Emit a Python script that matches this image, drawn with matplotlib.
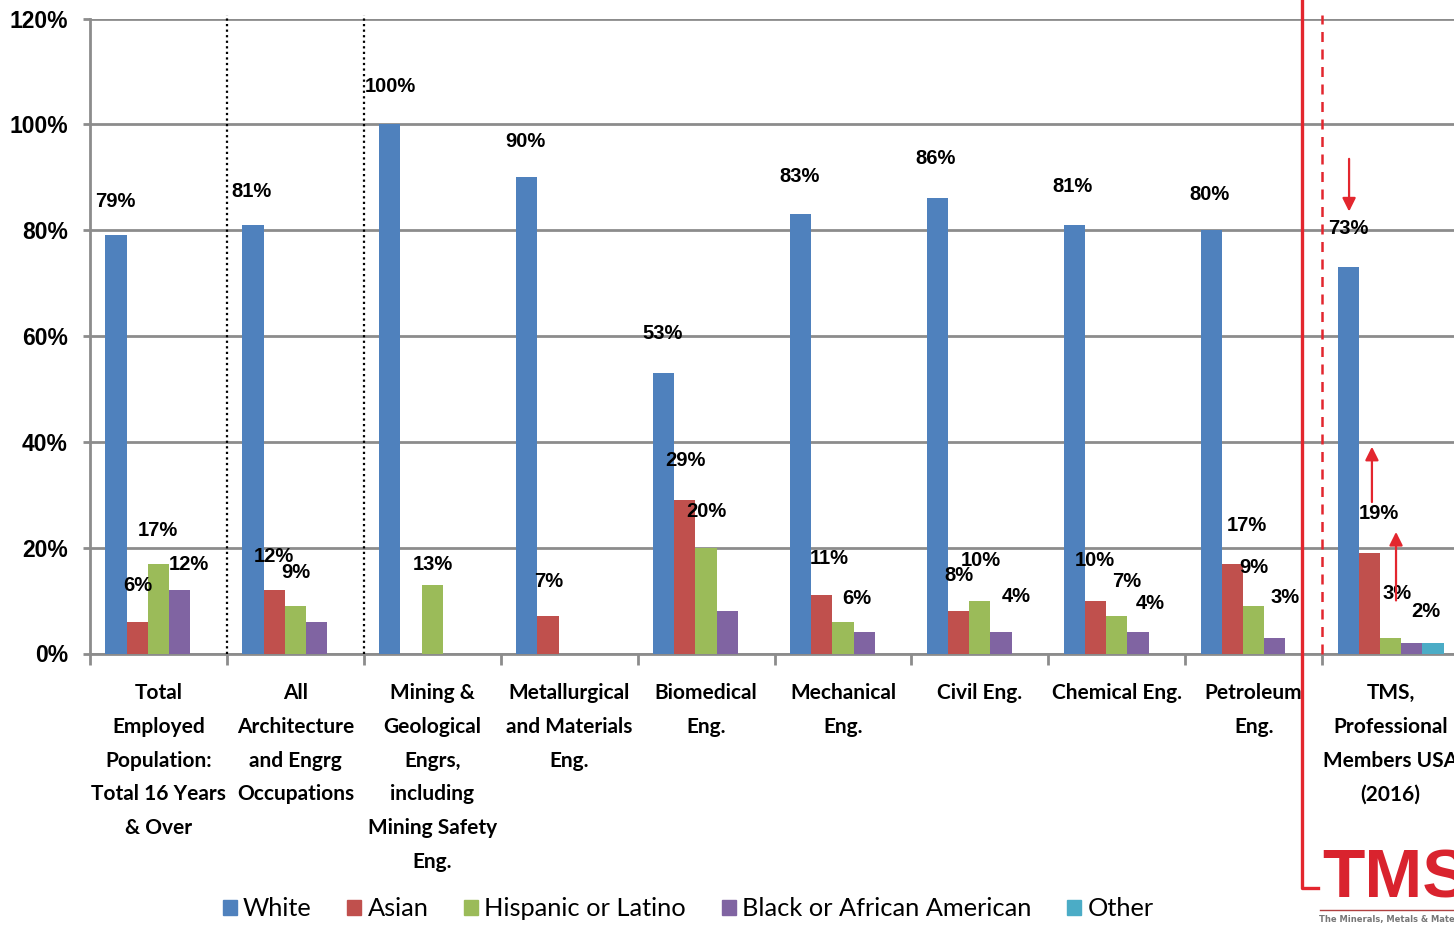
import numpy as np
import matplotlib.pyplot as plt
from matplotlib.lines import Line2D
from matplotlib.patches import Patch

# occupational groups (x axis)
categories = [
    "Total\nEmployed\nPopulation:\nTotal 16 Years\n& Over",
    "All\nArchitecture\nand Engrg\nOccupations",
    "Mining &\nGeological\nEngrs,\nincluding\nMining Safety\nEng.",
    "Metallurgical\nand Materials\nEng.",
    "Biomedical\nEng.",
    "Mechanical\nEng.",
    "Civil Eng.",
    "Chemical Eng.",
    "Petroleum\nEng.",
    "TMS,\nProfessional\nMembers USA\n(2016)",
]

series_names = ["White", "Asian", "Hispanic or Latino", "Black or African American", "Other"]
white    = [79, 81, 100, 90, 53, 83, 86, 81, 80, 73]
asian    = [6, 12, 0, 7, 29, 11, 8, 10, 17, 19]
hispanic = [17, 9, 13, 0, 20, 6, 10, 7, 9, 3]
black    = [12, 6, 0, 0, 8, 4, 4, 4, 3, 2]
other    = [0, 0, 0, 0, 0, 0, 0, 0, 0, 2]
yticks = [0, 20, 40, 60, 80, 100, 120]

colors = ["#4F81BD", "#C0504D", "#9BBB59", "#8064A2", "#4BACC6"]
values = [white, asian, hispanic, black, other]

# where each value label sits: (group, series, x offset, y)
label_pos = [
    (0, 0, -0.317, 85.5), (0, 1, -0.149, 12.8), (0, 2, -0.003, 23.3), (0, 3, 0.223, 16.9),
    (1, 0, -0.317, 87.4), (1, 1, -0.156, 18.4), (1, 2, 0.0, 15.4),
    (2, 0, -0.309, 107.1), (2, 2, 0.005, 16.8),
    (3, 0, -0.323, 96.7), (3, 1, -0.147, 13.7),
    (4, 0, -0.314, 60.4), (4, 1, -0.154, 36.4), (4, 2, 0.0, 26.8),
    (5, 0, -0.314, 90.2), (5, 1, -0.102, 18.0), (5, 2, 0.103, 10.3),
    (6, 0, -0.32, 93.6), (6, 1, -0.152, 14.8), (6, 2, 0.008, 17.5), (6, 3, 0.264, 10.7),
    (7, 0, -0.32, 88.2), (7, 1, -0.159, 17.5), (7, 2, 0.075, 13.7), (7, 3, 0.243, 9.5),
    (8, 0, -0.319, 86.8), (8, 1, -0.049, 24.1), (8, 2, 0.003, 16.3), (8, 3, 0.229, 10.5),
    (9, 0, -0.311, 80.4), (9, 1, -0.085, 26.4), (9, 2, 0.047, 11.4), (9, 3, 0.259, 8.0),
]

num_font = ["Liberation Sans", "DejaVu Sans"]
cat_font = ["Lato", "DejaVu Sans"]
red = "#E3262E"
grid_gray = "#8C8C8C"

fig = plt.figure(figsize=(14.54, 9.25), dpi=100)
W, H = 1454, 925
ax = fig.add_axes([90 / W, (H - 653.5) / H, (1459 - 90) / W, 635 / H])

x = np.arange(len(categories))
w = 0.155
for i, (vals, c) in enumerate(zip(values, colors)):
    ax.bar(x + (i - 2) * w, vals, w, color=c, zorder=3, label=series_names[i])

for g, s, dx, y in label_pos:
    ax.text(x[g] + dx, y, f"{values[s][g]:.0f}%", ha="center", va="center",
            fontsize=14.5, fontweight="bold", family=num_font, zorder=5)

ax.set_xlim(-0.5, len(categories) - 0.5)
ax.set_ylim(0, 120)
ax.set_yticks(yticks)
ax.set_yticklabels([f"{t}%" for t in yticks], fontsize=16.5, fontweight="bold", family=num_font)
ax.yaxis.grid(True, color=grid_gray, lw=2)
ax.set_axisbelow(True)
ax.tick_params(axis="y", length=5, width=2, color=grid_gray, pad=11)

ax.set_xticks(x)
ax.set_xticklabels(categories, fontsize=15, fontweight="bold", family=cat_font, linespacing=1.87)
ax.tick_params(axis="x", length=0, pad=21)
ax.set_xticks(np.arange(-0.5, len(categories), 1.0), minor=True)
ax.tick_params(axis="x", which="minor", length=8, width=2, color=grid_gray)

for side in ["top", "right"]:
    ax.spines[side].set_visible(False)
for side in ["left", "bottom"]:
    ax.spines[side].set_color(grid_gray)
    ax.spines[side].set_linewidth(2)

# dotted separators after the first two groups
for xs in [0.5, 1.5]:
    ax.plot([xs, xs], [0, 120.7], color="black", ls=(0, (1, 1.5)), lw=1.6, clip_on=False, zorder=4)
# dashed red separator before the TMS group
ax.plot([8.5, 8.5], [0, 120.7], color=red, ls=(0, (4, 3)), lw=1.8, clip_on=False, zorder=4)

# red arrows on the TMS bars
for xa, y0, y1 in [(8.697, 94.0, 83.0), (8.864, 28.1, 39.6), (9.04, 9.5, 23.5)]:
    ax.annotate("", xy=(xa, y1), xytext=(xa, y0),
                arrowprops=dict(arrowstyle="-|>", color=red, lw=1.6, mutation_scale=20), zorder=6)

# solid red frame line around the TMS block
fig.add_artist(Line2D([1302 / W, 1302 / W, 1318 / W], [1, (H - 888) / H, (H - 888) / H],
                      transform=fig.transFigure, color=red, lw=2.4))

# TMS logo
fig.text(1322 / W, (H - 880) / H, "TMS", color="#D9232E", fontsize=50, fontweight="bold",
         family=["Liberation Sans Narrow", "Liberation Sans", "DejaVu Sans"], va="center", ha="left")
fig.add_artist(Line2D([1320 / W, 1.0], [(H - 910) / H, (H - 910) / H],
                      transform=fig.transFigure, color="#B04040", lw=1))
fig.text(1319 / W, (H - 919) / H, "The Minerals, Metals & Materials Society", color="#777777",
         fontsize=6, fontweight="bold", va="center", ha="left")

handles = [Patch(color=c) for c in colors]
fig.legend(handles, series_names, loc="center", bbox_to_anchor=(688 / W, (H - 909) / H),
           ncol=5, frameon=False, prop={"family": cat_font, "size": 18.3},
           handlelength=0.55, handleheight=0.55, handletextpad=0.25, columnspacing=1.4)

plt.savefig("out.png", dpi=100)
